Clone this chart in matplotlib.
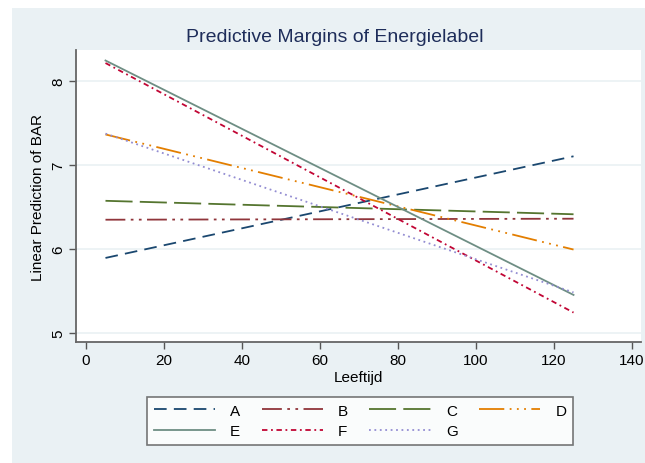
from matplotlib import pyplot as plt
from matplotlib.patches import Rectangle

plt.rcParams['font.family'] = ['Liberation Sans', 'DejaVu Sans']

# margins at the two ends of the age range
leeftijd = [5, 125]
labels = ['A', 'B', 'C', 'D', 'E', 'F', 'G']
pred_A = [5.89, 7.10]
pred_B = [6.345, 6.357]
pred_C = [6.57, 6.41]
pred_D = [7.36, 5.99]
pred_E = [8.24, 5.45]
pred_F = [8.21, 5.24]
pred_G = [7.37, 5.48]
series = [pred_A, pred_B, pred_C, pred_D, pred_E, pred_F, pred_G]

xticks = [0, 20, 40, 60, 80, 100, 120, 140]
yticks = [5, 6, 7, 8]

colours = ['#1A476F', '#90353B', '#55752F', '#E37E00', '#6E8E84', '#C10534', '#938DD2']
dashes = [(7, 4), (11, 3, 1.5, 3, 1.5, 3), (15, 4), (14, 3, 1, 3, 1, 3, 1, 3),
          None, (3, 2, 1, 2), (1, 2)]

bg = '#EAF1F4'

fig = plt.figure(figsize=(6.45, 4.64), dpi=100)
fig.patch.set_facecolor('white')
fig.add_artist(Rectangle((12 / 645, 0), 1, 1 - 9 / 464, transform=fig.transFigure,
                         facecolor=bg, edgecolor='none', zorder=-10))

ax = fig.add_axes([76 / 645, 1 - 343.3 / 464, (641 - 76) / 645, (343.3 - 51) / 464])

handles = []
for vals, lab, c, d in zip(series, labels, colours, dashes):
    ln, = ax.plot(leeftijd, vals, color=c, linewidth=1.3, label=lab)
    if d is not None:
        ln.set_dashes(d)
    handles.append(ln)

ax.set_xlim(-2.56, 142.3)
ax.set_ylim(4.886, 8.365)
ax.set_xticks(xticks)
ax.set_yticks(yticks)
ax.tick_params(axis='both', labelsize=11, length=5, width=1, color='#555555', pad=3)
for t in ax.get_yticklabels():
    t.set_rotation(90)
    t.set_va('center')
ax.grid(True, axis='y', color=bg, linewidth=1.2)
ax.set_axisbelow(True)
for s in ['top', 'right']:
    ax.spines[s].set_visible(False)
for s in ['left', 'bottom']:
    ax.spines[s].set_color('#666666')
    ax.spines[s].set_linewidth(1.3)

ax.set_xlabel('Leeftijd', fontsize=11, labelpad=2)
ax.set_ylabel('Linear Prediction of BAR', fontsize=11, labelpad=4)
fig.text(335 / 645, 1 - 37 / 464, 'Predictive Margins of Energielabel', ha='center', va='center',
         fontsize=14, color='#1E2D5A')

# row-wise order for a 4-column legend
order = [0, 4, 1, 5, 2, 6, 3]
leg = fig.legend([handles[i] for i in order], [labels[i] for i in order], ncol=4,
                 loc='center', bbox_to_anchor=(360 / 645, 1 - 422 / 464),
                 fontsize=11, handlelength=4.0, handletextpad=1.0, columnspacing=1.4,
                 frameon=True, fancybox=False, borderpad=0.45, labelspacing=0.45)
leg.get_frame().set_edgecolor('#555555')
leg.get_frame().set_linewidth(1.2)

fig.savefig('out.png', dpi=100, facecolor=fig.get_facecolor())
